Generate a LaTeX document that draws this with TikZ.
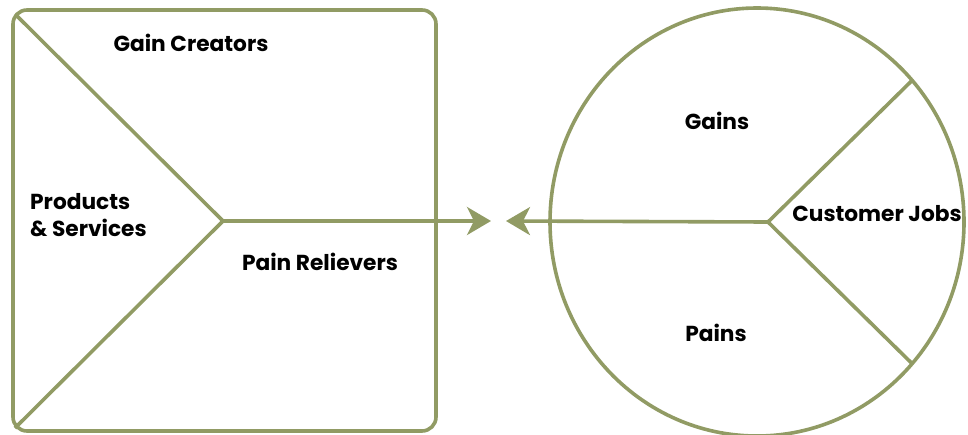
\documentclass[tikz,border=0pt]{standalone}
\usepackage{fontspec}
\setmainfont{Poppins}
\usetikzlibrary{arrows.meta}
\definecolor{olive}{RGB}{145,155,100}
\begin{document}
\begin{tikzpicture}[x=1pt,y=-1pt,
  edge/.style={draw=olive,line width=3.6pt},
  label/.style={font=\fontsize{21.7}{27}\selectfont\bfseries,text=black,inner sep=0pt},
  tip/.style={-{Stealth[length=24pt,width=28pt,inset=7pt]}}]
  \useasboundingbox (0,0) rectangle (968,434);

  % value map: rounded square split into three sectors
  \draw[edge,rounded corners=14pt] (13,10) rectangle (436,431);
  \coordinate (vc) at (223,221);
  \coordinate (vtl) at (15,14);
  \coordinate (vbl) at (15,428);
  \draw[edge] (vtl) -- (vc) -- (vbl);

  % customer profile: round outline split into three sectors
  \coordinate (cc) at (757,222);
  \draw[edge] (cc) ellipse[x radius=207,y radius=214];
  \coordinate (pc) at (768,222);
  \coordinate (pt) at (912,80.5);
  \coordinate (pb) at (912,363.5);
  \draw[edge] (pt) -- (pc) -- (pb);

  % connectors meeting in the middle
  \coordinate (fit1) at (491,221);
  \coordinate (fit2) at (506,221);
  \draw[edge,tip] (vc) -- (fit1);
  \draw[edge,tip] (pc) -- (fit2);

  % labels
  \node[label] (gc) at (191,43) {Gain Creators};
  \node[label,anchor=west,align=left] (ps) at (30,215) {Products\\\& Services};
  \node[label] (pr) at (320,262) {Pain Relievers};
  \node[label] (gains) at (717,121) {Gains};
  \node[label] (jobs) at (877,214) {Customer Jobs};
  \node[label] (pains) at (716,333) {Pains};
\end{tikzpicture}
\end{document}
